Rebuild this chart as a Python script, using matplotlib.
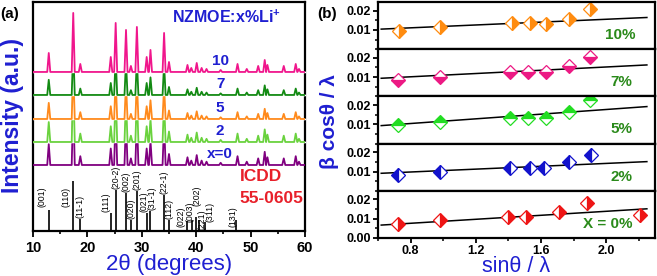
import numpy as np
import matplotlib
matplotlib.use('Agg')
import matplotlib.pyplot as plt
from matplotlib.ticker import MultipleLocator

plt.rcParams['font.family'] = ['Liberation Sans', 'DejaVu Sans']
plt.rcParams['font.weight'] = 'bold'
plt.rcParams['mathtext.fontset'] = 'custom'
plt.rcParams['mathtext.rm'] = 'Liberation Sans:bold'
plt.rcParams['mathtext.bf'] = 'Liberation Sans:bold'
plt.rcParams['axes.linewidth'] = 1.6

BLUE = '#1f1fd1'
GREEN_TXT = '#2a8a1a'
RED_TXT = '#e8202a'

# ---- (a) XRD patterns ----
peak_pos = [12.9, 17.4, 18.7, 24.3, 25.2, 27.1, 28.0, 29.1, 30.9, 31.6, 34.1, 35.0,
            38.4, 39.1, 40.1, 41.0, 41.9, 44.5, 47.6, 49.3, 51.4, 52.6, 53.1, 56.1, 58.3, 58.9]
peak_height = [19, 59, 8, 15, 49, 42, 6, 45, 15, 22, 39, 10,
               7, 4, 9, 4, 3, 2, 8, 3, 6, 12, 7, 6, 8, 3]

sample_labels = ['x=0', '2', '5', '7', '10']
sample_offset = [66, 89, 112, 136, 159]
sample_scale = [1.1, 1.05, 0.85, 0.8, 1.0]
sample_colors = ['#800080', '#6ad23e', '#ff8a1c', '#138a13', '#f0168c']

ref_hkl = ['(001)', '(110)', '(11-1)', '(111)', '(20-2)', '(002)', '(020)', '(201)', '(021)',
           '(31-1)', '(22-1)', '(112)', '(022)', '(003)', '(202)', '(221)', '(311)', '(131)']
ref_pos = [12.9, 17.4, 18.7, 24.3, 25.2, 27.1, 28.0, 29.1, 30.9,
           31.6, 34.1, 35.0, 38.4, 39.2, 40.0, 40.6, 41.6, 47.3]
ref_height = [21, 50, 12, 18, 41, 38, 11, 40, 18, 20, 36, 11, 10, 11, 14, 11, 9, 11]

# ---- (b) Williamson-Hall ----
wh_labels = ['10%', '7%', '5%', '2%', 'X = 0%']
wh_colors = ['#ff8c10', '#ec1a84', '#22dd22', '#1212cc', '#ee1515']
wh_fill = ['right', 'bottom', 'top', 'left', 'right']
wh_x = [[0.73, 0.98, 1.42, 1.53, 1.63, 1.77, 1.90],
        [0.72, 0.98, 1.41, 1.52, 1.63, 1.77, 1.90],
        [0.72, 0.98, 1.41, 1.52, 1.63, 1.77, 1.90],
        [0.72, 0.98, 1.41, 1.53, 1.62, 1.77, 1.91],
        [0.72, 0.98, 1.40, 1.51, 1.71, 1.88, 2.21]]
wh_y = [[0.0095, 0.0113, 0.0134, 0.0134, 0.0132, 0.0158, 0.0207],
        [0.0083, 0.0102, 0.0126, 0.0126, 0.0126, 0.0156, 0.0205],
        [0.0096, 0.0110, 0.0135, 0.0135, 0.0135, 0.0165, 0.0225],
        [0.0084, 0.0097, 0.0120, 0.0120, 0.0120, 0.0149, 0.0188],
        [0.0073, 0.0093, 0.0107, 0.0107, 0.0135, 0.0180, 0.0118]]
wh_slope = [0.0037, 0.00424, 0.00606, 0.00371, 0.00518]
wh_intercept = [0.0081, 0.00676, 0.00556, 0.00678, 0.00349]


def peak_trace(offset, scale, half_width=0.28):
    """Polyline through baseline and peak tips."""
    xs, ys = [10.0], [offset]
    for p, h in zip(peak_pos, peak_height):
        xs += [p - half_width, p, p + half_width]
        ys += [offset, offset + h * scale, offset]
    xs.append(60.0)
    ys.append(offset)
    return np.array(xs), np.array(ys)


fig = plt.figure(figsize=(6.57, 2.76), dpi=100)

ax = fig.add_axes([0.0502, 0.163, 0.4140, 0.830])
for i, (lab, off, sc, col) in enumerate(zip(sample_labels, sample_offset, sample_scale, sample_colors)):
    xs, ys = peak_trace(off, sc)
    # white fill hides the lower pattern's peaks beneath this one
    ax.fill_between(xs, off, ys, color='white', zorder=2 + 2 * i)
    ax.plot(xs, ys, color=col, lw=1.3, zorder=3 + 2 * i)
    ax.text(44.4, off + 11, lab, color=BLUE, fontsize=11, ha='center', va='center', zorder=20)

ax.vlines(ref_pos, 0, ref_height, color='black', lw=1.2)
# label nudges (dx in degrees, bottom y) where the label sits beside its stick
label_adjust = {'(001)': (-1.3, 24), '(110)': (-1.3, 24), '(111)': (-0.8, None),
                '(021)': (-0.55, None), '(31-1)': (0.25, None),
                '(022)': (-1.15, 4), '(003)': (-0.3, 9.5), '(202)': (0.1, 25),
                '(221)': (0.4, 1), '(311)': (0.9, 9.5), '(131)': (-0.6, 4.5)}
for hkl, p, h in zip(ref_hkl, ref_pos, ref_height):
    dx, yb = label_adjust.get(hkl, (0.0, None))
    if yb is None:
        yb = h + 1
    ax.text(p + dx, yb, hkl, rotation=90, fontsize=6.3, fontweight='normal',
            ha='center', va='bottom')

ax.text(48.0, 54, 'ICDD', color=RED_TXT, fontsize=12.5, ha='left', va='center')
ax.text(48.0, 33, '55-0605', color=RED_TXT, fontsize=12.5, ha='left', va='center')
ax.text(35.5, 214, r'NZMOE:x%Li$^{+}$', color=BLUE, fontsize=11.5, ha='left', va='center', zorder=20)

ax.set_xlim(10, 60)
ax.set_ylim(0, 229)
ax.xaxis.set_major_locator(MultipleLocator(10))
ax.xaxis.set_minor_locator(MultipleLocator(5))
ax.tick_params(axis='x', which='major', direction='out', length=4, width=1.3, labelsize=10.5)
ax.tick_params(axis='x', which='minor', direction='out', length=2.5, width=1.2)
ax.tick_params(axis='y', left=False, labelleft=False, which='both')
ax.set_xlabel('2θ (degrees)', color=BLUE, fontsize=16, labelpad=-1)
fig.text(0.019, 0.58, 'Intensity (a.u.)', color=BLUE, fontsize=16.5, rotation=90,
         ha='center', va='center')
fig.text(0.014, 0.95, '(a)', fontsize=11, ha='center', va='center')

# right panel stack
gs = fig.add_gridspec(5, 1, left=0.5753, right=0.997, bottom=0.1377, top=0.993, hspace=0)
fit_x = np.array([0.62, 2.25])
for i in range(5):
    bx = fig.add_subplot(gs[i])
    bx.plot(fit_x, wh_intercept[i] + wh_slope[i] * fit_x, color='black', lw=1.1)
    bx.plot(wh_x[i], wh_y[i], ls='none', marker='D', markersize=7.3, fillstyle=wh_fill[i],
            color=wh_colors[i], markerfacecoloralt='white', markeredgecolor=wh_colors[i],
            markeredgewidth=0.9)
    bx.text(0.93 if i == 0 else 0.918, 0.3, wh_labels[i], transform=bx.transAxes,
            color=GREEN_TXT, fontsize=11, ha='right', va='center')
    bx.set_xlim(0.6, 2.3)
    bx.set_ylim(0, 0.0245)
    bx.xaxis.set_major_locator(MultipleLocator(0.4))
    bx.xaxis.set_minor_locator(MultipleLocator(0.2))
    bx.yaxis.set_minor_locator(MultipleLocator(0.005))
    if i == 4:
        bx.set_yticks([0.0, 0.01, 0.02])
        bx.set_yticklabels(['0.00', '0.01', '0.02'])
    else:
        bx.set_yticks([0.01, 0.02])
        bx.set_yticklabels(['0.01', '0.02'])
    bx.tick_params(which='major', direction='out', length=3.5, width=1.3, labelsize=9, pad=1.5)
    bx.tick_params(which='minor', direction='out', length=2, width=1.1)
    bx.tick_params(axis='x', labelbottom=(i == 4))
    if i == 4:
        bx.set_xticks([0.8, 1.2, 1.6, 2.0])
        bx.set_xticklabels(['0.8', '1.2', '1.6', '2.0'])
        bx.set_xlabel('sinθ / λ', color=BLUE, fontsize=15.5, labelpad=-1)

fig.text(0.502, 0.56, 'β cosθ / λ', color=BLUE, fontsize=15, rotation=90,
         ha='center', va='center')
fig.text(0.498, 0.95, '(b)', fontsize=11, ha='center', va='center')

fig.savefig('out.png', dpi=100)
